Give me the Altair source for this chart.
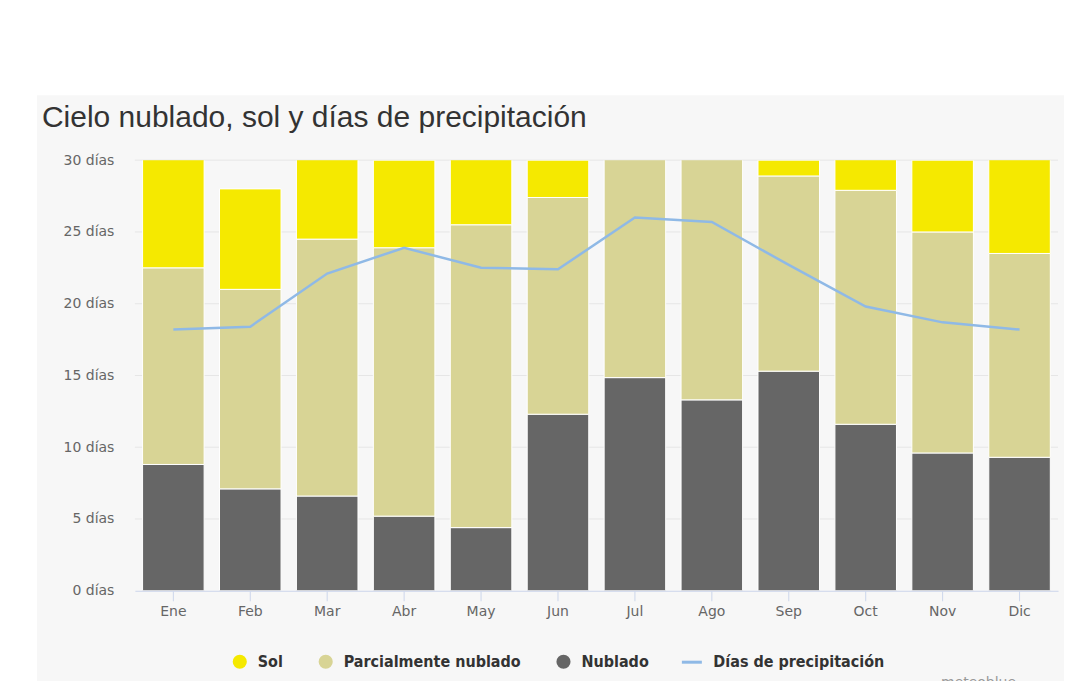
import altair as alt
import pandas as pd

meses = ["Ene", "Feb", "Mar", "Abr", "May", "Jun", "Jul", "Ago", "Sep", "Oct", "Nov", "Dic"]
nublado = [8.8, 7.1, 6.6, 5.2, 4.4, 12.3, 14.85, 13.3, 15.3, 11.6, 9.6, 9.3]
parcial = [13.7, 13.9, 17.9, 18.7, 21.1, 15.1, 16.15, 17.7, 13.6, 16.3, 15.4, 14.2]
sol = [8.5, 7.0, 6.5, 6.1, 5.5, 2.6, 0.0, 0.0, 1.1, 3.1, 5.0, 7.5]
precip = [18.2, 18.4, 22.1, 23.9, 22.5, 22.4, 26.0, 25.7, 22.7, 19.8, 18.7, 18.2]
categorias = ["Sol", "Parcialmente nublado", "Nublado"]
colores = ["#f5e900", "#d8d495", "#666666"]
ticks = [0, 5, 10, 15, 20, 25, 30]
serie_linea = "Días de precipitación"

rows = []
for i, m in enumerate(meses):
    rows.append({"mes": m, "tipo": "Nublado", "dias": nublado[i], "orden": 0})
    rows.append({"mes": m, "tipo": "Parcialmente nublado", "dias": parcial[i], "orden": 1})
    rows.append({"mes": m, "tipo": "Sol", "dias": sol[i], "orden": 2})
df_bars = pd.DataFrame(rows)
df_line = pd.DataFrame({"mes": meses, "precip": precip, "serie": [serie_linea] * len(meses)})
df_grid = pd.DataFrame({"v": ticks[1:]})

yscale = alt.Scale(domain=[0, 30], nice=False)
xscale = alt.Scale(paddingInner=0.2, paddingOuter=0.1)

axis_x = alt.Axis(title=None, labelAngle=0, domainColor="#ccd6eb", tickColor="#ccd6eb",
                  tickSize=10, labelColor="#666666", labelFont="DejaVu Sans",
                  labelFontSize=14, labelPadding=4, grid=False, zindex=1)
axis_y = alt.Axis(title=None, values=ticks, labelExpr="datum.value + ' días'",
                  domain=False, ticks=False, grid=False, labelColor="#666666",
                  labelFont="DejaVu Sans", labelFontSize=14, labelPadding=21, zindex=1)

legend_font = dict(labelFont="DejaVu Sans Condensed", labelFontWeight="bold",
                   labelFontSize=16, labelColor="#333333", labelOffset=10, labelLimit=0)

panel = alt.Chart(alt.Data(values=[{"a": 1}])).mark_rect(color="#f7f7f7").encode(
    x=alt.value(-98), x2=alt.value(930), y=alt.value(-65), y2=alt.value(600)
)

grid = alt.Chart(df_grid).mark_rule(color="#e6e6e6", strokeWidth=1).encode(
    y=alt.Y("v:Q", scale=yscale, axis=axis_y)
)

bars = alt.Chart(df_bars).mark_bar(clip=True, stroke="white", strokeWidth=1).encode(
    x=alt.X("mes:N", sort=meses, scale=xscale, axis=axis_x),
    y=alt.Y("dias:Q", stack="zero", scale=yscale, axis=axis_y),
    color=alt.Color("tipo:N", scale=alt.Scale(domain=categorias, range=colores),
                    legend=alt.Legend(title=None, orient="none", legendX=97, legendY=494,
                                      direction="horizontal", columns=3,
                                      symbolType="circle", symbolSize=200,
                                      symbolStrokeWidth=0, columnPadding=34,
                                      **legend_font)),
    order=alt.Order("orden:Q"),
)

line = alt.Chart(df_line).mark_line(strokeWidth=2.5).encode(
    x=alt.X("mes:N", sort=meses, scale=xscale, axis=axis_x),
    y=alt.Y("precip:Q", scale=yscale, axis=axis_y),
    stroke=alt.Stroke("serie:N", scale=alt.Scale(range=["#8fb9e6"]),
                      legend=alt.Legend(title=None, orient="none", legendX=546, legendY=491,
                                        symbolType="stroke", symbolSize=400,
                                        symbolStrokeWidth=3, **legend_font)),
)

credit = alt.Chart(alt.Data(values=[{"t": "meteoblue"}])).mark_text(
    align="right", baseline="top", color="#999999", fontSize=14, font="DejaVu Sans"
).encode(text="t:N", x=alt.value(882), y=alt.value(516))

chart = alt.layer(panel, grid, bars, line, credit).properties(
    width=924,
    height=431,
    padding={"left": 127, "top": 152, "right": 22, "bottom": 90},
    autosize=alt.AutoSizeParams(type="none"),
    title=alt.TitleParams(text="Cielo nublado, sol y días de precipitación",
                          anchor="start", frame="group", font="Liberation Sans",
                          fontSize=30, fontWeight="normal", color="#333333",
                          dx=-93, dy=38, offset=0),
).configure_view(strokeWidth=0).configure(background="white")

chart.save("out.html", embed_options={"renderer": "svg", "actions": False})
